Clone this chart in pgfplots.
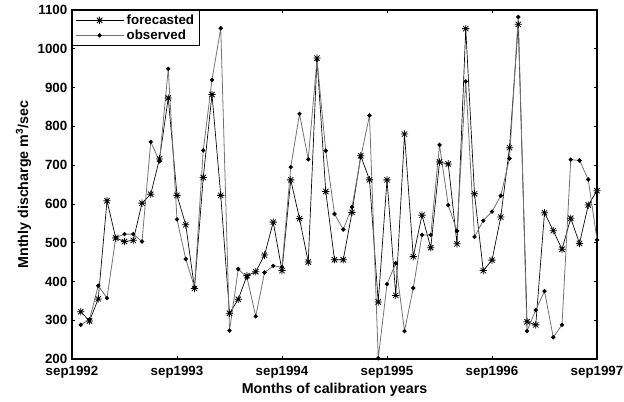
\documentclass[border=0pt]{standalone}
\usepackage{fontspec}
\setmainfont{Liberation Sans}
\usepackage{pgfplots}
\pgfplotsset{compat=1.18}

% MATLAB-style eight-armed asterisk
\pgfdeclareplotmark{ast8}{%
  \pgfpathmoveto{\pgfpoint{-\pgfplotmarksize}{0pt}}\pgfpathlineto{\pgfpoint{\pgfplotmarksize}{0pt}}%
  \pgfpathmoveto{\pgfpoint{0pt}{-\pgfplotmarksize}}\pgfpathlineto{\pgfpoint{0pt}{\pgfplotmarksize}}%
  \pgfpathmoveto{\pgfpoint{-0.707\pgfplotmarksize}{-0.707\pgfplotmarksize}}%
  \pgfpathlineto{\pgfpoint{0.707\pgfplotmarksize}{0.707\pgfplotmarksize}}%
  \pgfpathmoveto{\pgfpoint{-0.707\pgfplotmarksize}{0.707\pgfplotmarksize}}%
  \pgfpathlineto{\pgfpoint{0.707\pgfplotmarksize}{-0.707\pgfplotmarksize}}%
  \pgfusepathqstroke}

% month index (1 = oct1992), forecasted, observed
\pgfplotstableread{
m  f     o
1  322   288
2  298   302
3  355   389
4  608   357
5  512   513
6  503   522
7  506   522
8  602   503
9  625   760
10 716   710
11 873   948
12 622   560
13 546   458
14 382   385
15 668   738
16 882   920
17 622   1053
18 318   273
19 354   432
20 415   410
21 425   310
22 468   423
23 553   440
24 428   437
25 662   695
26 562   832
27 450   715
28 976   972
29 632   737
30 456   574
31 456   534
32 578   592
33 724   720
34 662   828
35 347   202
36 662   393
37 364   447
38 780   272
39 464   383
40 571   520
41 487   520
42 708   752
43 703   597
44 497   530
45 1052  916
46 626   515
47 428   557
48 455   580
49 566   621
50 745   717
51 1063  1082
52 296   272
53 288   326
54 577   375
55 531   256
56 483   288
57 563   714
58 498   712
59 597   663
60 634   507
}\flow

\begin{document}
\begin{tikzpicture}
\begin{axis}[
  scale only axis,
  width=393.75pt, height=261.75pt,
  xmin=0, xmax=60, ymin=200, ymax=1100,
  xtick={0,12,24,36,48,60},
  xticklabels={sep1992,sep1993,sep1994,sep1995,sep1996,sep1997},
  ytick={200,300,...,1100},
  /pgf/number format/1000 sep={},
  /pgf/number format/assume math mode=true,
  tick align=inside,
  major tick length=2.5pt,
  tick style={black, line width=0.5pt},
  axis line style={black, line width=0.8pt},
  tick label style={font=\fontsize{10}{12}\selectfont\bfseries},
  xticklabel style={yshift=-1.5pt},
  label style={font=\fontsize{10.7}{12}\selectfont\bfseries},
  xlabel={Months of calibration years},
  ylabel={Mnthly discharge m\textsuperscript{3}/sec},
  xlabel style={yshift=3pt},
  ylabel style={yshift=-2pt},
  legend style={at={(0,1)}, anchor=north west, draw=black, line width=0.8pt,
                font=\fontsize{10}{12}\selectfont\bfseries,
                inner xsep=2pt, inner ysep=1pt, row sep=-1.5pt},
  legend cell align=left,
  legend image code/.code={%
    \draw[mark repeat=2, mark phase=2, #1] plot coordinates {(0pt,0pt) (18pt,0pt) (36pt,0pt)};},
]
\addplot[black, line width=0.5pt, mark=ast8, mark size=2.8pt,
         mark options={solid, line width=0.6pt}] table[x=m, y=f] {\flow};
\addlegendentry{forecasted}
\addplot[black!55, line width=0.6pt, mark=*, mark size=1.3pt,
         mark options={solid, fill=black, draw=black}] table[x=m, y=o] {\flow};
\addlegendentry{observed}
\end{axis}
\pgfresetboundingbox
\path ([shift={(-54pt,-31.5pt)}]current axis.south west)
  rectangle ([shift={(20.25pt,7.5pt)}]current axis.north east);
\end{tikzpicture}
\end{document}
